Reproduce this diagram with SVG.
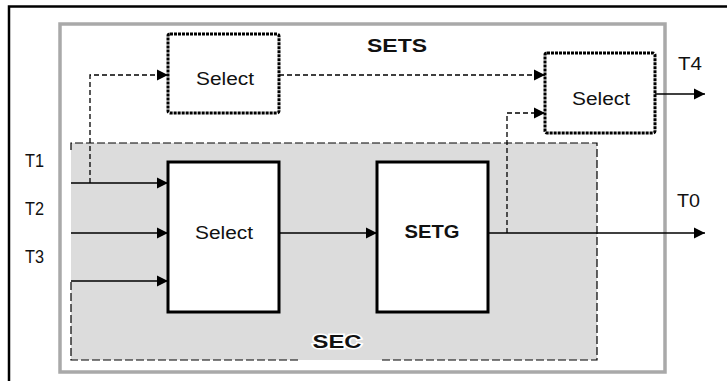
<svg xmlns="http://www.w3.org/2000/svg" width="727" height="381" viewBox="0 0 727 381">
<style>
.lbl{font-family:"Liberation Sans",Arial,sans-serif;font-size:18px;fill:#111;}
.b{font-weight:bold;}
.c{text-anchor:middle;}
.solid{fill:none;stroke:#000;stroke-width:1.3;}
.dash{fill:none;stroke:#000;stroke-width:1.3;stroke-dasharray:5,3;}
.secb{fill:none;stroke:#000;stroke-width:1.2;stroke-dasharray:8,3;}
.box{fill:#fff;stroke:#000;stroke-width:3;}
.dot{fill:#fff;stroke:#000;stroke-width:3;stroke-dasharray:3,1;}
</style>
<defs>
<marker id="ah" markerUnits="userSpaceOnUse" markerWidth="12" markerHeight="12" refX="11" refY="6" orient="auto">
<path d="M0,0.5 L11,6 L0,11.5 Z" fill="#000"/>
</marker>
</defs>
<rect width="727" height="381" fill="#fff"/>
<path d="M9,381 V6.5 H727" fill="none" stroke="#000" stroke-width="2.5"/>
<g id="sets">
<rect x="60" y="24" width="605" height="348" fill="#fff" stroke="#a9a9a9" stroke-width="3.5"/>
<text class="lbl b c" x="397" y="52" textLength="60" lengthAdjust="spacingAndGlyphs">SETS</text>
</g>
<g id="sec">
<rect x="71" y="143" width="526" height="217" fill="#dcdcdc"/>
<path d="M71,150 V143 H597 V360 H380 M298,360 H71 V281" class="secb"/>
<text class="lbl b c" x="337" y="348" textLength="49" lengthAdjust="spacingAndGlyphs" stroke="#fff" stroke-width="3" paint-order="stroke">SEC</text>
</g>
<g id="connectors">
<path class="solid" d="M71,183 H168" marker-end="url(#ah)"/>
<path class="solid" d="M71,233 H168" marker-end="url(#ah)"/>
<path class="solid" d="M71,281 H168" marker-end="url(#ah)"/>
<path class="dash" d="M90,183 V75 H168" marker-end="url(#ah)"/>
<path class="dash" d="M279,75 H545" marker-end="url(#ah)"/>
<path class="dash" d="M507,233 V113 H545" marker-end="url(#ah)"/>
<path class="solid" d="M279,233 H377" marker-end="url(#ah)"/>
<path class="solid" d="M488,233 H705" marker-end="url(#ah)"/>
<path class="solid" d="M655,94 H705" marker-end="url(#ah)"/>
</g>
<g id="select-top">
<rect class="dot" x="168" y="34" width="111" height="79" rx="2"/>
<text class="lbl c" x="225" y="85" textLength="58" lengthAdjust="spacingAndGlyphs">Select</text>
</g>
<g id="select-right">
<rect class="dot" x="545" y="53" width="110" height="80" rx="2"/>
<text class="lbl c" x="601" y="105" textLength="58" lengthAdjust="spacingAndGlyphs">Select</text>
</g>
<g id="select-main">
<rect class="box" x="168" y="162" width="111" height="150"/>
<text class="lbl c" x="224" y="239" textLength="58" lengthAdjust="spacingAndGlyphs">Select</text>
</g>
<g id="setg">
<rect class="box" x="377" y="162" width="111" height="150"/>
<text class="lbl b c" x="432" y="238" textLength="55" lengthAdjust="spacingAndGlyphs">SETG</text>
</g>
<g id="labels">
<text class="lbl" x="25" y="167" textLength="19" lengthAdjust="spacingAndGlyphs">T1</text>
<text class="lbl" x="25" y="215" textLength="19" lengthAdjust="spacingAndGlyphs">T2</text>
<text class="lbl" x="25" y="263" textLength="19" lengthAdjust="spacingAndGlyphs">T3</text>
<text class="lbl" x="678" y="70" textLength="24" lengthAdjust="spacingAndGlyphs">T4</text>
<text class="lbl" x="677" y="207" textLength="23" lengthAdjust="spacingAndGlyphs">T0</text>
</g>
</svg>
